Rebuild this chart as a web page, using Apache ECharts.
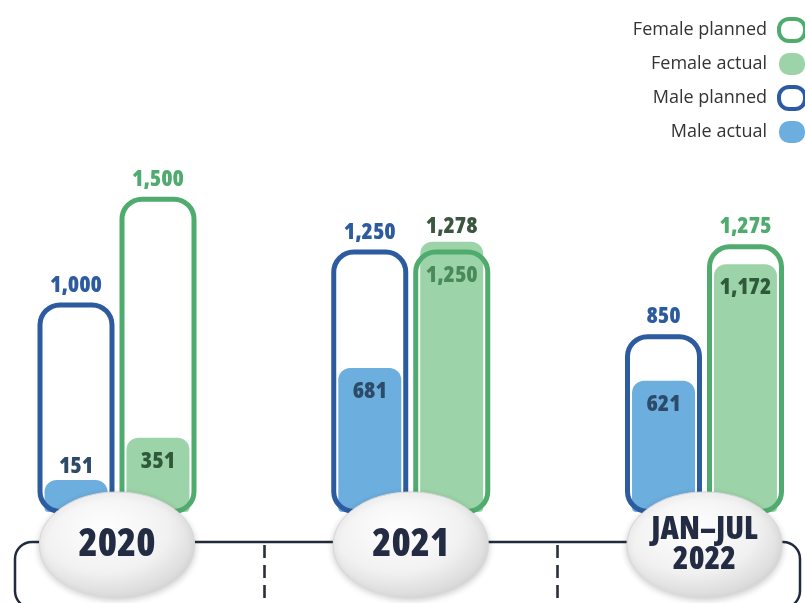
<!DOCTYPE html>
<html>
<head>
<meta charset="utf-8">
<title>Planned vs actual</title>
<script src="https://cdn.jsdelivr.net/npm/echarts@6/dist/echarts.min.js"></script>
<style>
    html, body { margin: 0; padding: 0; background: #ffffff; }
    #chart { width: 805px; height: 603px; }
</style>
</head>
<body>
<div id="chart"></div>
<script>
    var categories = ["2020", "2021", "JAN\u2013JUL\n2022"];
    var malePlanned = [1000, 1250, 850];
    var maleActual = [151, 681, 621];
    var femalePlanned = [1500, 1250, 1275];
    var femaleActual = [351, 1278, 1172];

    var NARROW = '"Open Sans", "Roboto Condensed", sans-serif';
    var NARROW_W = "800 condensed";
    var BLUE_LINE = "#2d5b9f";
    var GREEN_LINE = "#4fac6e";
    var BLUE_FILL = "#6caede";
    var GREEN_FILL = "#9dd3a8";

    var ellipsePath = "path://M0,50 C0,22.4 35.8,0 80,0 C124.2,0 160,22.4 160,50 C160,77.6 124.2,100 80,100 C35.8,100 0,77.6 0,50 Z";
    var pillPath = "path://M10,0 H16 A10,10 0 0 1 26,10 V12 A10,10 0 0 1 16,22 H10 A10,10 0 0 1 0,12 V10 A10,10 0 0 1 10,0 Z";

    function fmt(p) {
        return echarts.format.addCommas(p.value);
    }

    // planned outline: label above, unless the actual bar goes past it
    function plannedData(planned, actual, color) {
        return planned.map(function (v, i) {
            var swap = actual[i] > v;
            return {
                value: v,
                label: swap
                    ? { position: "insideTop", distance: 14, color: "#4a8a5a" }
                    : { position: "top", distance: 6, color: color }
            };
        });
    }

    // actual fill: label inside the top, on top if the bar is short or beats the plan
    function actualData(actual, planned, color, overColor) {
        return actual.map(function (v, i) {
            if (v > planned[i]) {
                return { value: v, label: { position: "top", distance: 4, color: overColor } };
            }
            if (v < 200) {
                return { value: v, label: { position: "top", distance: 2, color: color } };
            }
            return { value: v, label: { position: "insideTop", distance: 12, color: color } };
        });
    }

    var barLabel = {
        show: true,
        formatter: fmt,
        fontFamily: NARROW,
        fontWeight: NARROW_W,
        fontSize: 23
    };

    var chartDom = document.getElementById("chart");
    var myChart = echarts.init(chartDom, null, { renderer: "canvas" });

    var option = {
        backgroundColor: "#ffffff",
        animation: false,
        legend: {
            orient: "vertical",
            right: -7,
            top: 12,
            align: "right",
            itemWidth: 26,
            itemHeight: 22,
            itemGap: 10,
            icon: pillPath,
            textStyle: {
                fontFamily: '"Open Sans", sans-serif',
                fontSize: 18,
                color: "#333333",
                padding: [0, 7, 0, 0]
            },
            data: [
                { name: "Female planned", itemStyle: { color: "#ffffff", borderColor: GREEN_LINE, borderWidth: 4 } },
                { name: "Female actual" },
                { name: "Male planned", itemStyle: { color: "#ffffff", borderColor: BLUE_LINE, borderWidth: 4 } },
                { name: "Male actual" }
            ]
        },
        graphic: [
            {
                // bracket under the years
                type: "rect",
                shape: { x: 15, y: 542, width: 785, height: 66, r: 17 },
                style: { fill: "none", stroke: "#222b3e", lineWidth: 2.5 },
                z: 0
            }
        ],
        grid: [
            { left: -29.875, width: 881.25, top: 146, height: 384, outerBoundsMode: "none" },
            { left: -29.875, width: 881.25, top: 545, height: 80, outerBoundsMode: "none" }
        ],
        xAxis: [
            { type: "category", gridIndex: 0, data: categories, show: false },
            { type: "category", gridIndex: 0, data: categories, show: false },
            {
                type: "category",
                gridIndex: 1,
                data: categories,
                position: "top",
                axisLine: { show: false },
                axisTick: { show: false },
                axisLabel: { show: false },
                splitLine: {
                    show: true,
                    lineStyle: { color: "#2b2f3a", width: 2.6, type: [13, 7] }
                }
            }
        ],
        yAxis: [
            { type: "value", gridIndex: 0, min: -76, max: 1740, show: false },
            { type: "value", gridIndex: 0, min: -85, max: 1731, show: false },
            { type: "value", gridIndex: 1, min: 0, max: 1, inverse: true, show: false }
        ],
        series: [
            {
                name: "Male actual",
                type: "bar",
                xAxisIndex: 1,
                yAxisIndex: 1,
                barWidth: 63,
                barGap: "30%",
                z: 2,
                itemStyle: { color: BLUE_FILL, borderRadius: [12, 12, 4, 4] },
                label: barLabel,
                data: actualData(maleActual, malePlanned, "#2d4a68", "#2d4a68")
            },
            {
                name: "Female actual",
                type: "bar",
                xAxisIndex: 1,
                yAxisIndex: 1,
                barWidth: 63,
                barGap: "30%",
                z: 2,
                itemStyle: { color: GREEN_FILL, borderRadius: [12, 12, 4, 4] },
                label: barLabel,
                data: actualData(femaleActual, femalePlanned, "#2f5a3a", "#3b5740")
            },
            {
                name: "Male planned",
                type: "bar",
                xAxisIndex: 0,
                yAxisIndex: 0,
                barWidth: 77,
                barGap: "6.5%",
                z: 3,
                itemStyle: {
                    color: "rgba(255,255,255,0)",
                    borderColor: BLUE_LINE,
                    borderWidth: 5,
                    borderRadius: 20
                },
                label: barLabel,
                data: plannedData(malePlanned, maleActual, BLUE_LINE)
            },
            {
                name: "Female planned",
                type: "bar",
                xAxisIndex: 0,
                yAxisIndex: 0,
                barWidth: 77,
                barGap: "6.5%",
                z: 3,
                itemStyle: {
                    color: "rgba(255,255,255,0)",
                    borderColor: GREEN_LINE,
                    borderWidth: 5,
                    borderRadius: 20
                },
                label: barLabel,
                data: plannedData(femalePlanned, femaleActual, GREEN_LINE)
            },
            {
                // grey ovals carrying the period names
                name: "period",
                type: "scatter",
                xAxisIndex: 2,
                yAxisIndex: 2,
                z: 6,
                silent: true,
                symbol: ellipsePath,
                symbolKeepAspect: false,
                symbolSize: [155, 106],
                itemStyle: {
                    opacity: 1,
                    color: new echarts.graphic.RadialGradient(0.42, 0.35, 0.75, [
                        { offset: 0, color: "#ffffff" },
                        { offset: 0.55, color: "#f1f1f1" },
                        { offset: 1, color: "#cfcfcf" }
                    ]),
                    borderColor: "#d9d9d9",
                    borderWidth: 1,
                    shadowColor: "rgba(0,0,0,0.18)",
                    shadowBlur: 6,
                    shadowOffsetY: 2
                },
                label: {
                    show: true,
                    position: "inside",
                    color: "#232c42",
                    formatter: function (p) {
                        var parts = p.name.split("\n");
                        if (parts.length > 1) {
                            return parts.map(function (s) { return "{s|" + s + "}"; }).join("\n");
                        }
                        return "{b|" + p.name + "}";
                    },
                    rich: {
                        b: { fontFamily: NARROW, fontWeight: "800 condensed", fontSize: 39, lineHeight: 44, color: "#232c42" },
                        s: { fontFamily: NARROW, fontWeight: "800 condensed", fontSize: 32, lineHeight: 30, color: "#232c42" }
                    }
                },
                data: categories.map(function (c) { return [c, 0]; })
            }
        ]
    };

    option && myChart.setOption(option);
</script>
</body>
</html>
